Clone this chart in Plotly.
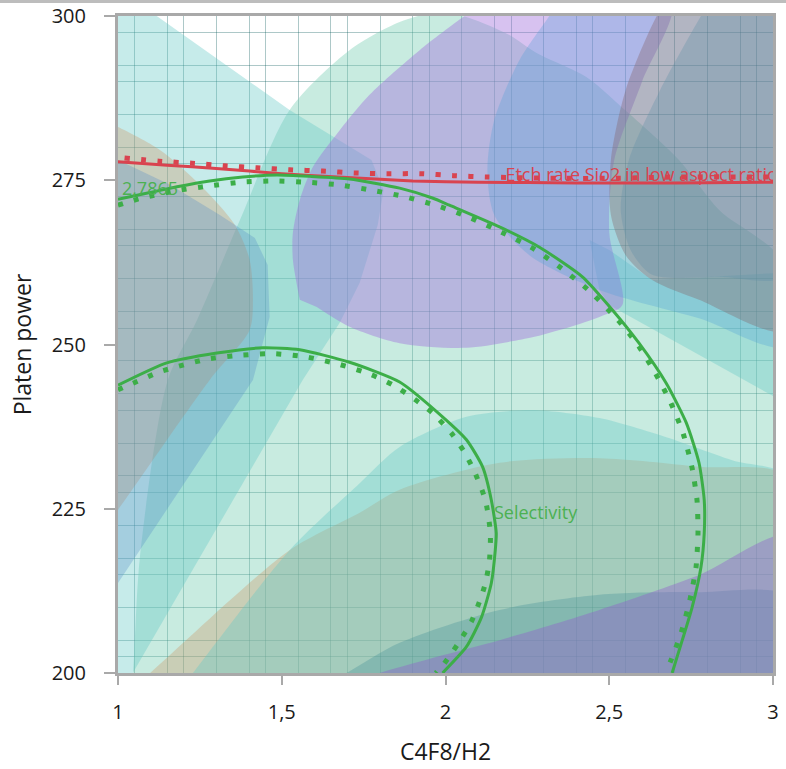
import plotly.graph_objects as go

# ---------------- data ----------------
x_tick_vals = [1, 1.5, 2, 2.5, 3]
x_tick_text = ["1", "1,5", "2", "2,5", "3"]
y_tick_vals = [200, 225, 250, 275, 300]
y_tick_text = ["200", "225", "250", "275", "300"]

# contour: Etch rate Sio2 in low aspect ratio (solid = current, dotted = limit)
etch_x = [1.0, 1.15, 1.3, 1.5, 1.7, 1.9, 2.1, 2.4, 2.7, 3.0]
etch_y = [277.8, 277.3, 276.8, 276.0, 275.4, 274.9, 274.7, 274.6, 274.6, 274.7]
etch_dot_x = [1.02, 1.125, 1.226, 1.326, 1.424, 1.524, 1.625, 1.726, 1.823, 1.924, 2.024, 2.125, 2.326, 2.521, 2.713, 3.0]
etch_dot_y = [278.4, 277.9, 277.6, 277.2, 276.9, 276.6, 276.4, 276.1, 276.0, 276.0, 275.7, 275.5, 275.3, 275.3, 275.5, 275.5]

# contour: Selectivity (outer branch)
sel_x = [1.0, 1.076, 1.180, 1.280, 1.381, 1.485, 1.585, 1.707, 1.860, 1.960, 2.012, 2.165, 2.287, 2.418,
         2.509, 2.591, 2.674, 2.735, 2.774, 2.790, 2.790, 2.780, 2.753, 2.723, 2.692]
sel_y = [272.1, 272.9, 274.0, 274.9, 275.5, 275.8, 275.6, 275.2, 273.8, 272.3, 271.2, 267.9, 264.8, 260.3,
         255.3, 250.2, 244.1, 238.1, 232.0, 226.3, 221.3, 216.1, 210.0, 205.0, 200.0]
sel_dot_x = [1.0, 1.073, 1.177, 1.274, 1.375, 1.476, 1.576, 1.674, 1.774, 1.875, 1.976, 2.070, 2.171, 2.265,
             2.354, 2.436, 2.518, 2.585, 2.640, 2.689, 2.726, 2.753, 2.768, 2.771, 2.765, 2.747, 2.720, 2.689, 2.671]
sel_dot_y = [271.2, 272.3, 273.4, 274.1, 274.7, 274.9, 274.7, 274.3, 273.5, 272.5, 271.1, 269.4, 267.1, 264.7,
             261.6, 258.3, 254.2, 250.1, 245.7, 241.0, 236.4, 231.2, 226.3, 221.3, 216.1, 211.3, 206.2, 202.0, 200.0]

# contour: Selectivity (inner branch)
sel_in_x = [1.0, 1.149, 1.302, 1.442, 1.555, 1.707, 1.860, 1.991, 2.064, 2.113, 2.140, 2.155, 2.152, 2.140,
            2.110, 2.064, 1.991]
sel_in_y = [243.8, 247.2, 248.7, 249.5, 249.2, 247.3, 244.3, 239.0, 235.5, 231.4, 226.3, 221.3, 218.7, 213.7,
            208.5, 204.0, 200.0]
sel_in_dot_x = [1.0, 1.046, 1.125, 1.186, 1.274, 1.381, 1.476, 1.576, 1.674, 1.774, 1.841, 1.905, 1.960, 2.018,
                2.058, 2.088, 2.122, 2.137, 2.134, 2.122, 2.107, 2.079, 2.040, 1.997, 1.970]
sel_in_dot_y = [243.1, 244.1, 245.8, 246.7, 247.8, 248.4, 248.6, 248.1, 247.0, 245.4, 243.8, 241.7, 239.6, 236.5,
                233.6, 230.7, 226.3, 221.3, 217.0, 213.7, 211.3, 207.8, 204.6, 201.5, 200.0]

# shaded (infeasible) regions, boundaries in data units
mint_x = [1.037, 1.046, 1.067, 1.152, 1.241, 1.372, 1.524, 1.707, 1.860, 1.982, 2.073, 2.195, 2.277, 2.430,
          2.530, 2.713, 2.835, 3.049, 3.049]
mint_y = [195.9, 200.0, 217.7, 244.6, 253.7, 268.9, 285.7, 294.8, 299.1, 300.6, 299.7, 297.1, 294.4, 290.7,
          286.5, 278.1, 270.5, 261.3, 195.9]

tan_low_x = [1.003, 1.098, 1.524, 1.738, 1.860, 2.165, 2.470, 2.774, 3.049, 3.049]
tan_low_y = [195.9, 200.0, 218.7, 224.4, 227.9, 232.0, 232.7, 231.4, 229.7, 195.9]

cyan_a_x = [0.945, 1.070, 1.524, 1.774, 1.811, 1.793, 1.738, 1.677, 1.564, 1.046, 1.015, 0.945]
cyan_a_y = [301.7, 301.7, 285.7, 278.1, 273.5, 268.2, 259.4, 253.3, 244.6, 200.0, 197.4, 197.4]

cyan_c_x = [1.165, 1.229, 1.524, 1.738, 1.860, 2.064, 2.265, 2.470, 2.674, 2.875, 3.049, 3.049]
cyan_c_y = [195.9, 200.0, 218.7, 228.9, 234.4, 239.0, 240.0, 238.8, 235.9, 232.4, 229.7, 195.9]

teal_low_x = [1.552, 1.698, 1.860, 2.165, 2.470, 2.774, 3.049, 3.049]
teal_low_y = [195.9, 200.0, 204.6, 209.6, 211.9, 212.3, 211.6, 195.9]

violet_low_x = [1.555, 1.799, 1.991, 2.165, 2.470, 2.774, 3.049, 3.049]
violet_low_y = [195.9, 200.0, 202.7, 205.0, 209.6, 214.9, 220.9, 195.9]

cyan_b_x = [2.440, 2.470, 2.500, 2.774, 3.049, 3.049, 2.631, 2.500]
cyan_b_y = [265.9, 258.3, 256.0, 248.4, 240.8, 261.0, 259.8, 264.4]

tan_top_x = [0.945, 1.0, 1.128, 1.250, 1.357, 1.402, 1.412, 1.402, 1.280, 1.0, 0.945]
tan_top_y = [284.2, 283.1, 279.6, 274.3, 268.2, 262.9, 256.8, 252.2, 244.6, 224.8, 221.0]

blue_left_x = [0.945, 1.0, 1.412, 1.463, 1.457, 1.418, 1.311, 1.159, 1.0, 0.945]
blue_left_y = [211.1, 213.7, 244.6, 254.2, 262.1, 266.2, 269.7, 274.3, 278.1, 279.6]

violet_top_x = [1.555, 1.534, 1.534, 1.555, 1.595, 1.677, 1.768, 1.921, 2.064, 2.134, 2.690, 2.600, 2.515,
                2.500, 2.540, 2.470, 2.348, 2.265, 2.064, 1.860, 1.707, 1.607]
violet_top_y = [256.8, 262.9, 267.0, 272.0, 277.0, 282.6, 288.0, 294.8, 300.2, 302.4, 302.4, 290.0, 278.0,
                267.0, 256.0, 254.2, 252.2, 251.1, 249.5, 250.2, 252.7, 255.7]

blue_top_x = [2.348, 2.317, 2.226, 2.149, 2.128, 2.149, 2.256, 2.470, 2.774, 3.049, 3.049]
blue_top_y = [302.4, 300.0, 293.3, 284.2, 276.6, 269.7, 263.6, 258.3, 254.0, 249.9, 302.4]

brown_x = [2.680, 2.645, 2.550, 2.505, 2.505, 2.550, 2.631, 2.774, 3.049, 3.049]
brown_y = [302.4, 300.0, 288.7, 278.1, 269.7, 263.6, 259.8, 256.8, 252.2, 302.4]

slate_x = [2.810, 2.780, 2.655, 2.560, 2.535, 2.565, 2.631, 2.835, 3.049, 3.049]
slate_y = [302.4, 300.0, 288.7, 278.1, 270.5, 264.4, 260.6, 260.3, 260.6, 302.4]

# ---------------- styling ----------------
CYAN = "rgba(101,201,198,0.37)"
MINT = "rgba(118,205,177,0.40)"
TAN = "rgba(204,140,87,0.30)"
# (x, y, fill colour, curved outline?)
regions = [
    (mint_x, mint_y, MINT, True),
    (tan_low_x, tan_low_y, TAN, True),
    (cyan_a_x, cyan_a_y, CYAN, False),
    (cyan_c_x, cyan_c_y, CYAN, True),
    (teal_low_x, teal_low_y, "rgba(60,140,150,0.30)", True),
    (violet_low_x, violet_low_y, "rgba(144,92,206,0.40)", True),
    (cyan_b_x, cyan_b_y, CYAN, False),
    (tan_top_x, tan_top_y, TAN, True),
    (blue_left_x, blue_left_y, "rgba(87,140,200,0.30)", False),
    (violet_top_x, violet_top_y, "rgba(160,110,220,0.42)", True),
    (blue_top_x, blue_top_y, "rgba(80,160,215,0.30)", True),
    (brown_x, brown_y, "rgba(131,90,95,0.33)", True),
    (slate_x, slate_y, "rgba(97,143,168,0.32)", True),
]

GREEN = "#3cae48"
RED = "#d9434f"
DOTS = "5px,11.4px"
FONT = "Open Sans"

fig = go.Figure()
for rx, ry, col, curved in regions:
    fig.add_trace(go.Scatter(x=rx, y=ry, fill="toself", fillcolor=col, mode="lines",
                             line=dict(width=0, color="rgba(0,0,0,0)",
                                       shape="spline" if curved else "linear", smoothing=0.8),
                             hoverinfo="skip"))

lines = [
    (etch_x, etch_y, RED, None, 3),
    (etch_dot_x, etch_dot_y, RED, DOTS, 5),
    (sel_x, sel_y, GREEN, None, 3),
    (sel_dot_x, sel_dot_y, GREEN, DOTS, 5),
    (sel_in_x, sel_in_y, GREEN, None, 3),
    (sel_in_dot_x, sel_in_dot_y, GREEN, DOTS, 5),
]
for lx, ly, col, dash, w in lines:
    fig.add_trace(go.Scatter(x=lx, y=ly, mode="lines",
                             line=dict(color=col, width=w, dash=dash, shape="spline", smoothing=0.6),
                             hoverinfo="skip"))

labels = [
    (2.183, 275.6, "Etch rate Sio2 in low aspect ratio", RED),
    (1.012, 273.4, "2,7865", "#4cb152"),
    (2.148, 224.2, "Selectivity", "#4cb152"),
]
for tx, ty, txt, col in labels:
    fig.add_trace(go.Scatter(x=[tx], y=[ty], mode="text", text=[txt], textposition="middle right",
                             textfont=dict(family=FONT, size=18, color=col), cliponaxis=True,
                             hoverinfo="skip"))

grid_x = [1 + 0.05 * k for k in range(1, 40) if k % 5 in (1, 3, 4)]
grid_y = [200 + 2.5 * j for j in range(1, 40) if j % 5 in (1, 2, 4)]
GRID = "rgba(0,85,85,0.32)"
FRAME = "#a9a9a9"

fig.update_layout(
    width=786, height=769,
    margin=dict(l=118, r=13, t=16, b=96),
    plot_bgcolor="white", paper_bgcolor="white",
    showlegend=False,
    font=dict(family=FONT, color="#1a1a1a"),
    xaxis=dict(range=[1, 3], tickmode="array", tickvals=x_tick_vals, ticktext=x_tick_text,
               ticks="outside", ticklen=9, tickwidth=2, tickcolor=FRAME, automargin=False,
               showline=True, mirror=True, linecolor=FRAME, linewidth=3,
               showgrid=False, zeroline=False, tickfont=dict(size=20), ticklabelstandoff=10,
               ticklabeloverflow="allow",
               minor=dict(tickmode="array", tickvals=grid_x, showgrid=True, gridcolor=GRID,
                          gridwidth=1, ticks=""),
               title=dict(text="C4F8/H2", font=dict(size=23), standoff=20)),
    yaxis=dict(range=[200, 300], tickmode="array", tickvals=y_tick_vals, ticktext=y_tick_text,
               ticks="outside", ticklen=11, tickwidth=2, tickcolor=FRAME, automargin=False,
               showline=True, mirror=True, linecolor=FRAME, linewidth=3,
               showgrid=False, zeroline=False, tickfont=dict(size=20), ticklabelstandoff=14,
               ticklabeloverflow="allow",
               minor=dict(tickmode="array", tickvals=grid_y, showgrid=True, gridcolor=GRID,
                          gridwidth=1, ticks=""),
               title=dict(text="Platen power", font=dict(size=23), standoff=14)),
    shapes=[dict(type="line", xref="paper", yref="paper", x0=-0.19, x1=1.03,
                 y0=1 + 14.5 / 657, y1=1 + 14.5 / 657,
                 line=dict(color="#bdbdbd", width=3), layer="above")],
)

# remove the default 8px page margin so the figure fills the window exactly
fig.write_html("out.html", config={"displayModeBar": False},
               post_script="document.body.style.margin='0px';")
